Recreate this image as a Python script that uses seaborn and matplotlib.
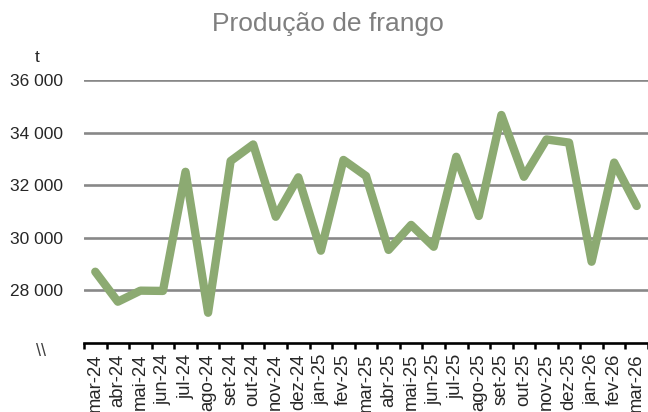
import numpy as np
import pandas as pd
import matplotlib
matplotlib.use("Agg")
import matplotlib.pyplot as plt
import seaborn as sns
from matplotlib.ticker import FuncFormatter, FixedLocator

# dados (t)
meses = ["mar-24", "abr-24", "mai-24", "jun-24", "jul-24", "ago-24", "set-24",
         "out-24", "nov-24", "dez-24", "jan-25", "fev-25", "mar-25", "abr-25",
         "mai-25", "jun-25", "jul-25", "ago-25", "set-25", "out-25", "nov-25",
         "dez-25", "jan-26", "fev-26", "mar-26"]
producao = [28710, 27570, 27990, 27980, 32510, 27150, 32920,
            33550, 30800, 32300, 29510, 32960, 32350, 29540,
            30490, 29660, 33080, 30830, 34670, 32320, 33740,
            33620, 29090, 32860, 31210]
y_ticks = [28000, 30000, 32000, 34000, 36000]

TITULO = "Produção de frango"
VERDE = "#8CAA72"
CINZA_GRADE = "#888888"


def fmt_milhar(v, pos):
    return f"{v:,.0f}".replace(",", " ")


def plot_producao():
    sns.set_style("white")
    plt.rcParams["font.family"] = ["Liberation Sans", "DejaVu Sans"]

    fig = plt.figure(figsize=(6.48, 4.12), dpi=100)
    ax = fig.add_axes([84 / 648, 1 - 343 / 412, 564 / 648, 263 / 412])

    df = pd.DataFrame({"mes": meses, "producao": producao})
    sns.lineplot(data=df, x="mes", y="producao", sort=False, color=VERDE,
                 linewidth=6, ax=ax, zorder=3,
                 solid_joinstyle="round", solid_capstyle="round")

    ax.set_xlim(-0.5, len(meses) - 0.5)
    ax.set_ylim(26000, 36000)
    ax.set_yticks(y_ticks)
    ax.yaxis.set_major_formatter(FuncFormatter(fmt_milhar))
    ax.grid(axis="y", color=CINZA_GRADE, linewidth=1.9)
    ax.set_axisbelow(True)

    # ticks nos limites das categorias (estilo Excel)
    ax.set_xticks(range(len(meses)))
    ax.set_xticklabels(meses, rotation=90)
    ax.xaxis.set_minor_locator(FixedLocator(np.arange(-0.5, len(meses), 1.0)))
    ax.tick_params(axis="x", which="major", length=0, pad=7.5, labelsize=13.3)
    ax.tick_params(axis="x", which="minor", length=4.5, width=1.8,
                   color="black", direction="out", bottom=True)
    ax.tick_params(axis="y", length=0, pad=15, labelsize=12.5)

    for s in ["top", "right", "left"]:
        ax.spines[s].set_visible(False)
    ax.spines["bottom"].set_color("black")
    ax.spines["bottom"].set_linewidth(1.9)

    ax.set_xlabel("")
    ax.set_ylabel("")

    fig.text(324 / 648 + 0.006, 1 - 24 / 412, TITULO, ha="center", va="center",
             fontsize=19, color="#7F7F7F")
    fig.text(37 / 648, 1 - 58 / 412, "t", ha="center", va="center", fontsize=12.5)
    fig.text(41 / 648, 1 - 351 / 412, "\\\\", ha="center", va="center",
             fontsize=13, color="#404040")

    fig.savefig("out.png", dpi=100)
    plt.close(fig)


if __name__ == "__main__":
    plot_producao()
